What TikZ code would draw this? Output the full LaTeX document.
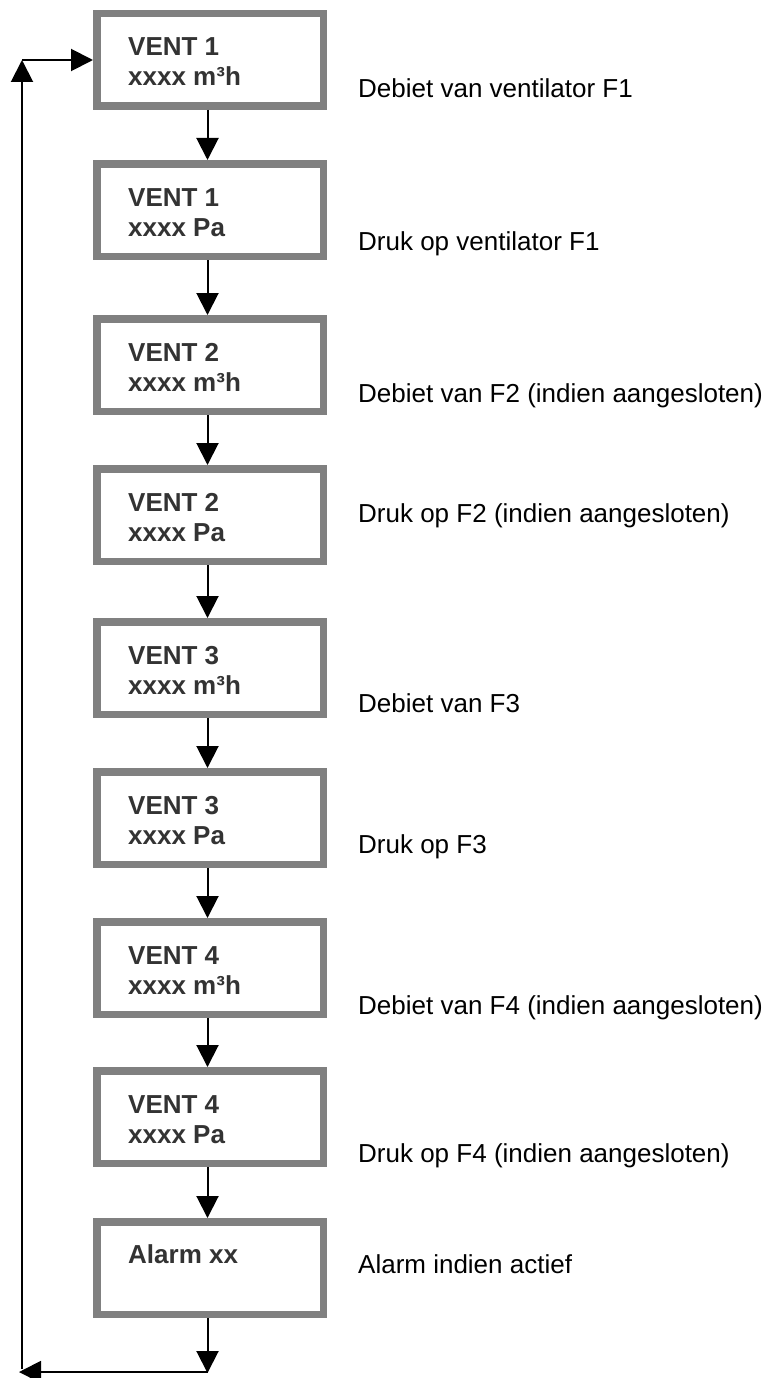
\documentclass[tikz,border=0pt]{standalone}
\usepackage{fontspec}
\setmainfont{Liberation Sans}
\usetikzlibrary{arrows.meta}
\definecolor{framegray}{RGB}{128,128,128}
\definecolor{boxtext}{RGB}{51,51,51}

\begin{document}
\begin{tikzpicture}[x=1pt,y=-1pt,
  stepbox/.style={draw=framegray, line width=7.5pt, minimum width=226.5pt,
    minimum height=92.5pt, inner sep=0pt, fill=white},
  boxline/.style={anchor=base west, inner sep=0pt,
    font=\fontsize{26}{30}\selectfont\bfseries, text=boxtext},
  note/.style={anchor=base west, inner sep=0pt,
    font=\fontsize{26}{30}\selectfont, text=black},
  flow/.style={line width=2pt, -{Triangle[length=22pt,width=22pt]}},
]
\useasboundingbox (0,0) rectangle (775,1378);

% menu screens
\node[stepbox] (b1) at (210,60)   {};
\node[stepbox] (b2) at (210,210)  {};
\node[stepbox] (b3) at (210,365)  {};
\node[stepbox] (b4) at (210,515)  {};
\node[stepbox] (b5) at (210,668)  {};
\node[stepbox] (b6) at (210,818)  {};
\node[stepbox] (b7) at (210,968)  {};
\node[stepbox] (b8) at (210,1117) {};
\node[stepbox] (b9) at (210,1268) {};

% screen contents
\node[boxline] (t1a) at (128,56)   {VENT 1};
\node[boxline] (t1b) at (128,86)   {xxxx m³h};
\node[boxline] (t2a) at (128,206)  {VENT 1};
\node[boxline] (t2b) at (128,236)  {xxxx Pa};
\node[boxline] (t3a) at (128,361)  {VENT 2};
\node[boxline] (t3b) at (128,391)  {xxxx m³h};
\node[boxline] (t4a) at (128,511)  {VENT 2};
\node[boxline] (t4b) at (128,541)  {xxxx Pa};
\node[boxline] (t5a) at (128,664)  {VENT 3};
\node[boxline] (t5b) at (128,694)  {xxxx m³h};
\node[boxline] (t6a) at (128,814)  {VENT 3};
\node[boxline] (t6b) at (128,844)  {xxxx Pa};
\node[boxline] (t7a) at (128,964)  {VENT 4};
\node[boxline] (t7b) at (128,994)  {xxxx m³h};
\node[boxline] (t8a) at (128,1113) {VENT 4};
\node[boxline] (t8b) at (128,1143) {xxxx Pa};
\node[boxline] (t9a) at (128,1263) {Alarm xx};

% explanations
\node[note] (l1) at (358,98)   {Debiet van ventilator F1};
\node[note] (l2) at (358,250)  {Druk op ventilator F1};
\node[note] (l3) at (358,402)  {Debiet van F2 (indien aangesloten)};
\node[note] (l4) at (358,522)  {Druk op F2 (indien aangesloten)};
\node[note] (l5) at (358,712)  {Debiet van F3};
\node[note] (l6) at (358,853)  {Druk op F3};
\node[note] (l7) at (358,1014) {Debiet van F4 (indien aangesloten)};
\node[note] (l8) at (358,1162) {Druk op F4 (indien aangesloten)};
\node[note] (l9) at (358,1273) {Alarm indien actief};

% step-to-step arrows
\foreach \a/\b in {b1/b2,b2/b3,b3/b4,b4/b5,b5/b6,b6/b7,b7/b8,b8/b9}
  \draw[flow] ([xshift=-2.5pt]\a.south) -- ([xshift=-2.5pt]\b.north);

% return loop
\coordinate (down)  at (207.5,1373);
\coordinate (turn)  at (207.5,1372);
\coordinate (botL)  at (19,1372);
\coordinate (riseB) at (22,1369);
\coordinate (riseT) at (22,60);
\coordinate (topL)  at (22,60);

\draw[flow] ([xshift=-2.5pt]b9.south) -- (down);
\draw[flow] (turn) -- (botL);
\draw[flow] (riseB) -- (riseT);
\draw[flow] (topL) -- (b1.west);
\end{tikzpicture}
\end{document}
